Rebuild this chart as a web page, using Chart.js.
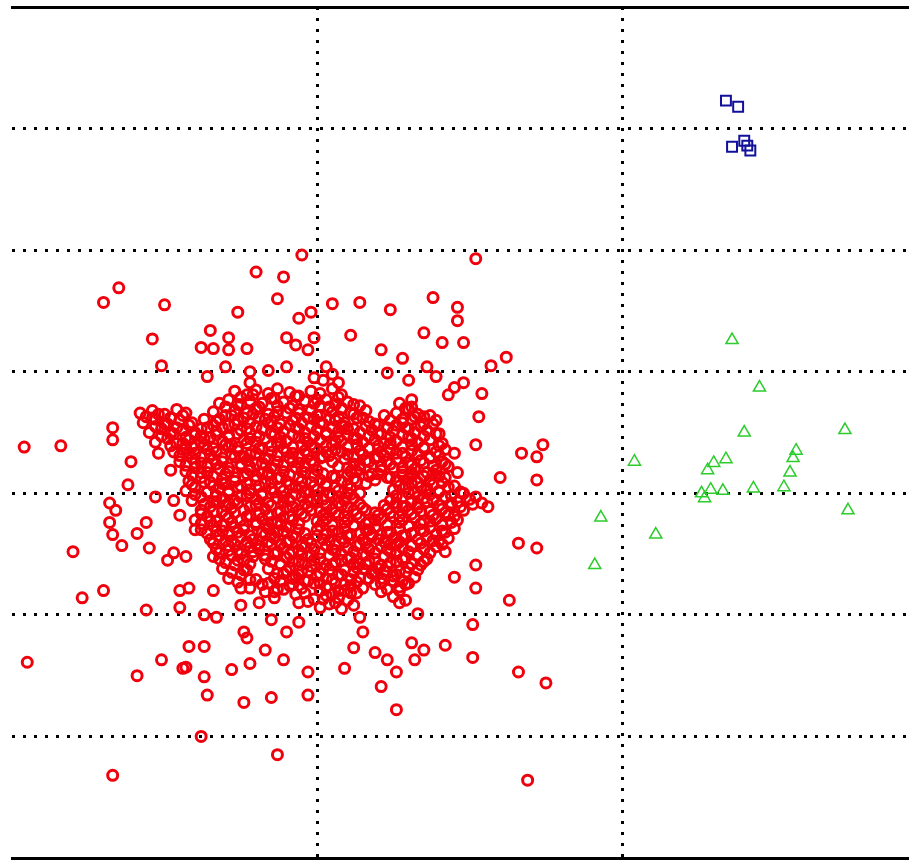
<!DOCTYPE html>
<html>
<head>
<meta charset="utf-8">
<script src="https://cdn.jsdelivr.net/npm/chart.js@4/dist/chart.umd.min.js"></script>
<style>
html,body{margin:0;padding:0;background:#fff;}
canvas{display:block;}
</style>
</head>
<body>
<canvas id="c" width="909" height="860"></canvas>
<script>
// Axis settings (grid units)
const xMin = 0, xMax = 2.94;
const yMin = 0, yMax = 7;
const xGridTicks = [1, 2];
const yGridTicks = [1, 2, 3, 4, 5, 6];

// Red circles: scattered points around the main cloud [x, y]
const redOuter = [
[0.95,4.96],[1.52,4.93],[0.80,4.82],[0.89,4.78],[0.35,4.69],[0.30,4.57],[0.87,4.60],[0.50,4.55],
[1.05,4.56],[1.14,4.57],[1.24,4.51],[1.38,4.61],[1.46,4.53],[1.46,4.42],[0.74,4.49],[0.94,4.44],
[0.98,4.49],[0.65,4.34],[0.46,4.27],[0.71,4.28],[0.71,4.18],[0.77,4.19],[0.62,4.20],[0.66,4.19],
[0.90,4.28],[0.93,4.22],[0.99,4.28],[0.97,4.18],[1.11,4.30],[1.35,4.32],[1.41,4.24],[1.48,4.24],
[1.21,4.18],[1.28,4.11],[1.62,4.12],[1.57,4.05],[0.49,4.05],[0.64,3.96],[0.70,4.04],[0.78,4.00],
[0.84,4.01],[0.90,4.04],[0.78,3.91],[1.23,3.99],[1.36,4.04],[1.39,3.96],[1.30,3.93],[1.48,3.91],
[1.45,3.87],[1.43,3.81],[1.54,3.82],[1.53,3.63],[1.31,3.77],[1.35,3.63],[1.52,3.40],[1.67,3.33],
[1.74,3.40],[1.72,3.30],[1.60,3.13],[1.72,3.11],[1.45,3.33],[1.46,3.17],[1.36,3.03],[1.28,2.89],
[1.56,2.89],[0.04,3.38],[0.16,3.39],[0.33,3.54],[0.33,3.44],[0.46,3.62],[0.52,3.62],[0.52,3.50],
[0.39,3.26],[0.48,3.33],[0.52,3.19],[0.38,3.07],[0.32,2.92],[0.34,2.86],[0.47,2.97],[0.53,2.94],
[0.56,3.36],[0.32,2.76],[0.33,2.66],[0.36,2.57],[0.41,2.67],[0.44,2.76],[0.45,2.55],[0.51,2.45],
[0.53,2.51],[0.20,2.52],[0.23,2.14],[0.30,2.20],[0.44,2.04],[0.05,1.61],[0.41,1.50],[0.49,1.63],
[0.56,1.56],[0.33,0.68],[0.55,2.20],[0.55,2.06],[0.55,2.82],[0.60,2.70],[0.57,2.48],[0.66,2.48],
[0.58,2.22],[0.66,2.20],[0.75,2.08],[0.63,2.00],[0.67,1.98],[0.75,2.22],[0.81,2.10],[0.86,2.19],
[0.85,1.96],[0.90,1.86],[0.94,2.10],[0.94,1.94],[0.76,1.86],[0.77,1.81],[0.58,1.74],[0.63,1.74],
[0.57,1.57],[0.72,1.55],[0.78,1.60],[0.83,1.71],[0.89,1.63],[0.97,1.53],[0.63,1.49],[0.64,1.34],
[0.76,1.28],[0.85,1.32],[0.97,1.34],[0.62,1.00],[0.87,0.85],[1.09,1.56],[1.12,1.73],[1.15,1.86],
[1.14,1.98],[1.66,2.59],[1.72,2.55],[1.52,2.41],[1.45,2.31],[1.52,2.22],[1.63,2.12],[1.42,2.52],
[1.33,2.01],[1.51,1.92],[1.42,1.75],[1.31,1.77],[1.35,1.71],[1.32,1.63],[1.51,1.65],[1.19,1.69],
[1.23,1.63],[1.26,1.53],[1.21,1.41],[1.26,1.22],[1.66,1.53],[1.75,1.44],[1.69,0.64],
[1.02,3.93],[1.05,3.98],[1.03,4.04],[1.07,3.91],[0.99,3.95]
];

// Red circles: dense core of the cloud, first layer [x, y]
const redCore = [
[0.73,3.84],[0.77,3.81],[0.80,3.85],[0.84,3.82],[0.87,3.86],[0.91,3.83],[0.94,3.80],[0.98,3.84],[1.01,3.82],[1.05,3.86],[1.08,3.81],
[0.68,3.74],[0.71,3.77],[0.75,3.73],[0.78,3.76],[0.82,3.74],[0.85,3.78],[0.89,3.75],[0.92,3.72],[0.96,3.76],[0.99,3.74],[1.03,3.77],[1.06,3.73],[1.10,3.75],[1.14,3.72],[1.27,3.74],[1.31,3.71],
[0.42,3.66],[0.46,3.68],[0.50,3.65],[0.54,3.69],[0.57,3.66],[0.66,3.67],[0.70,3.64],[0.73,3.68],[0.77,3.66],[0.80,3.69],[0.84,3.65],[0.87,3.67],[0.91,3.70],[0.94,3.66],[0.98,3.68],[1.01,3.64],[1.05,3.67],[1.08,3.69],[1.12,3.65],[1.16,3.68],[1.26,3.66],[1.30,3.69],[1.33,3.65],
[0.43,3.58],[0.47,3.61],[0.51,3.57],[0.55,3.60],[0.59,3.58],[0.63,3.61],[0.67,3.59],[0.71,3.56],[0.74,3.60],[0.78,3.58],[0.81,3.62],[0.85,3.59],[0.88,3.57],[0.92,3.60],[0.95,3.58],[0.99,3.61],[1.02,3.57],[1.06,3.60],[1.09,3.58],[1.13,3.62],[1.17,3.59],[1.20,3.56],[1.24,3.60],[1.28,3.58],[1.31,3.61],[1.35,3.57],[1.39,3.60],
[0.45,3.50],[0.49,3.53],[0.52,3.49],[0.56,3.52],[0.60,3.50],[0.64,3.54],[0.67,3.51],[0.71,3.48],[0.75,3.52],[0.78,3.50],[0.82,3.53],[0.85,3.49],[0.89,3.51],[0.93,3.54],[0.96,3.50],[1.00,3.52],[1.03,3.48],[1.07,3.51],[1.10,3.53],[1.14,3.50],[1.18,3.52],[1.21,3.49],[1.25,3.51],[1.29,3.54],[1.32,3.50],[1.36,3.52],[1.40,3.49],
[0.47,3.42],[0.51,3.45],[0.54,3.41],[0.58,3.44],[0.62,3.42],[0.65,3.46],[0.69,3.43],[0.72,3.40],[0.76,3.44],[0.80,3.42],[0.83,3.45],[0.87,3.41],[0.90,3.43],[0.94,3.46],[0.97,3.42],[1.01,3.44],[1.05,3.40],[1.08,3.43],[1.12,3.45],[1.15,3.42],[1.19,3.44],[1.22,3.41],[1.26,3.43],[1.30,3.46],[1.33,3.42],[1.37,3.44],[1.41,3.41],
[0.53,3.34],[0.57,3.37],[0.60,3.33],[0.64,3.36],[0.67,3.34],[0.71,3.38],[0.74,3.35],[0.78,3.32],[0.82,3.36],[0.85,3.34],[0.89,3.37],[0.92,3.33],[0.96,3.35],[0.99,3.38],[1.03,3.34],[1.06,3.36],[1.10,3.32],[1.14,3.35],[1.17,3.37],[1.21,3.34],[1.24,3.36],[1.28,3.33],[1.31,3.35],[1.35,3.38],[1.39,3.34],[1.42,3.36],
[0.55,3.26],[0.59,3.29],[0.62,3.25],[0.66,3.28],[0.69,3.26],[0.73,3.30],[0.77,3.27],[0.80,3.24],[0.84,3.28],[0.87,3.26],[0.91,3.29],[0.94,3.25],[0.98,3.27],[1.02,3.30],[1.05,3.26],[1.09,3.28],[1.12,3.24],[1.16,3.27],[1.19,3.29],[1.23,3.26],[1.26,3.28],[1.30,3.25],[1.34,3.27],[1.37,3.30],[1.41,3.26],
[0.57,3.18],[0.60,3.21],[0.64,3.17],[0.68,3.20],[0.71,3.18],[0.75,3.22],[0.78,3.19],[0.82,3.16],[0.86,3.20],[0.89,3.18],[0.93,3.21],[0.96,3.17],[1.00,3.19],[1.07,3.22],[1.11,3.18],[1.14,3.20],[1.18,3.16],[1.21,3.19],[1.25,3.21],[1.28,3.18],[1.32,3.20],[1.36,3.17],[1.39,3.19],[1.43,3.22],
[0.58,3.10],[0.62,3.13],[0.65,3.09],[0.69,3.12],[0.73,3.10],[0.76,3.14],[0.80,3.11],[0.83,3.08],[0.87,3.12],[0.90,3.10],[0.94,3.13],[0.98,3.09],[1.01,3.11],[1.05,3.14],[1.08,3.10],[1.12,3.12],[1.16,3.08],[1.19,3.11],[1.23,3.13],[1.26,3.10],[1.30,3.12],[1.33,3.09],[1.37,3.11],[1.40,3.14],
[0.57,3.02],[0.60,3.05],[0.64,3.01],[0.68,3.04],[0.71,3.02],[0.75,3.06],[0.78,3.03],[0.82,3.00],[0.85,3.04],[0.89,3.02],[0.93,3.05],[0.96,3.01],[1.00,3.03],[1.03,3.06],[1.07,3.02],[1.11,3.04],[1.14,3.00],[1.25,3.03],[1.29,3.05],[1.32,3.01],[1.36,3.04],[1.40,3.02],[1.43,3.05],[1.47,3.01],
[0.59,2.94],[0.62,2.97],[0.66,2.93],[0.69,2.96],[0.73,2.94],[0.77,2.98],[0.80,2.95],[0.84,2.92],[0.87,2.96],[0.91,2.94],[0.95,2.97],[0.98,2.93],[1.02,2.95],[1.05,2.98],[1.09,2.94],[1.12,2.96],[1.24,2.94],[1.28,2.97],[1.31,2.93],[1.35,2.96],[1.38,2.94],[1.42,2.97],[1.46,2.93],[1.50,2.95],[1.54,2.92],
[0.62,2.86],[0.65,2.89],[0.69,2.85],[0.72,2.88],[0.76,2.86],[0.80,2.90],[0.83,2.87],[0.87,2.84],[0.90,2.88],[0.94,2.86],[0.97,2.89],[1.01,2.85],[1.05,2.87],[1.08,2.90],[1.12,2.86],[1.15,2.88],[1.19,2.84],[1.23,2.87],[1.26,2.89],[1.30,2.86],[1.33,2.88],[1.37,2.85],[1.41,2.87],[1.44,2.90],[1.48,2.86],
[0.60,2.78],[0.64,2.81],[0.67,2.77],[0.71,2.80],[0.75,2.78],[0.78,2.82],[0.82,2.79],[0.85,2.76],[0.89,2.80],[0.92,2.78],[0.96,2.81],[1.00,2.77],[1.03,2.79],[1.07,2.82],[1.10,2.78],[1.14,2.80],[1.17,2.76],[1.21,2.79],[1.25,2.81],[1.28,2.78],[1.32,2.80],[1.35,2.77],[1.39,2.79],[1.43,2.82],[1.46,2.78],
[0.62,2.70],[0.66,2.73],[0.69,2.69],[0.73,2.72],[0.76,2.70],[0.80,2.74],[0.84,2.71],[0.87,2.68],[0.91,2.72],[0.94,2.70],[1.01,2.73],[1.05,2.69],[1.09,2.71],[1.12,2.74],[1.16,2.70],[1.19,2.72],[1.23,2.68],[1.27,2.71],[1.30,2.73],[1.34,2.70],[1.37,2.72],[1.41,2.69],[1.45,2.71],
[0.65,2.62],[0.68,2.65],[0.72,2.61],[0.75,2.64],[0.79,2.62],[0.83,2.66],[0.86,2.63],[0.90,2.60],[0.93,2.64],[0.97,2.62],[1.00,2.65],[1.04,2.61],[1.08,2.63],[1.11,2.66],[1.15,2.62],[1.18,2.64],[1.22,2.60],[1.25,2.63],[1.29,2.65],[1.33,2.62],[1.36,2.64],[1.40,2.61],[1.43,2.63],
[0.67,2.54],[0.71,2.57],[0.74,2.53],[0.78,2.56],[0.81,2.54],[0.85,2.58],[0.89,2.55],[0.92,2.52],[0.96,2.56],[0.99,2.54],[1.03,2.57],[1.06,2.53],[1.10,2.55],[1.14,2.58],[1.17,2.54],[1.21,2.56],[1.24,2.52],[1.28,2.55],[1.31,2.57],[1.35,2.54],[1.39,2.56],
[0.68,2.46],[0.72,2.49],[0.76,2.45],[0.79,2.48],[0.83,2.46],[0.86,2.50],[0.90,2.47],[0.94,2.44],[0.97,2.48],[1.01,2.46],[1.04,2.49],[1.08,2.45],[1.11,2.47],[1.15,2.50],[1.19,2.46],[1.22,2.48],[1.26,2.44],[1.29,2.47],[1.33,2.49],[1.36,2.46],
[0.69,2.38],[0.73,2.41],[0.77,2.37],[0.84,2.38],[0.88,2.42],[0.91,2.39],[0.95,2.36],[0.98,2.40],[1.02,2.38],[1.05,2.41],[1.09,2.37],[1.13,2.39],[1.16,2.42],[1.20,2.38],[1.23,2.40],[1.27,2.36],[1.30,2.39],[1.34,2.41],
[0.71,2.30],[0.75,2.33],[0.78,2.29],[0.86,2.30],[0.89,2.34],[0.93,2.31],[0.96,2.28],[1.00,2.32],[1.03,2.30],[1.07,2.33],[1.11,2.29],[1.14,2.31],[1.18,2.34],[1.21,2.30],[1.25,2.32],[1.28,2.28],[1.32,2.31],
[0.78,2.22],[0.82,2.25],[0.87,2.21],[0.91,2.24],[0.95,2.22],[0.99,2.26],[1.03,2.23],[1.07,2.20],[1.11,2.24],[1.15,2.22],[1.19,2.25],[1.23,2.21],[1.27,2.23],[1.30,2.26],
[0.86,2.14],[0.93,2.17],[0.99,2.13],[1.03,2.16],[1.07,2.14],[1.11,2.18],[1.25,2.15],[1.29,2.12],
[1.01,2.06],[1.04,2.09],[1.08,2.05],[1.12,2.08],
[0.75,3.30],[0.86,3.48],[0.98,3.40],[1.09,3.55],[0.69,3.08],[0.84,3.15],[0.95,3.05],[1.10,3.00],
[0.71,2.92],[0.88,2.74],[1.03,2.84],[1.18,2.66],[0.80,2.58],[0.95,2.50],[1.12,2.42],[1.26,2.58],
[0.93,3.62],[1.04,3.71],[0.81,3.71],[0.62,3.47],[1.20,3.30],[1.31,3.14],[0.92,2.30],[1.06,2.26]
];

// Red circles: dense core of the cloud, second layer [x, y]
const redCore2 = [
[0.75,3.79],[0.79,3.81],[0.86,3.78],[0.93,3.80],[1.00,3.77],[1.07,3.79],
[0.70,3.71],[0.74,3.73],[0.80,3.70],[0.87,3.72],[0.94,3.69],[1.01,3.72],[1.08,3.70],[1.12,3.73],[1.29,3.70],
[0.44,3.63],[0.48,3.65],[0.52,3.62],[0.56,3.64],[0.68,3.61],[0.72,3.64],[0.76,3.62],[0.79,3.65],[0.83,3.61],[0.86,3.63],[0.90,3.66],[0.97,3.62],[1.00,3.64],[1.04,3.61],[1.07,3.63],[1.11,3.66],[1.15,3.62],[1.22,3.64],[1.28,3.61],[1.32,3.63],[1.37,3.64],
[0.47,3.55],[0.50,3.57],[0.54,3.54],[0.58,3.56],[0.62,3.53],[0.66,3.56],[0.69,3.54],[0.73,3.57],[0.77,3.53],[0.80,3.55],[0.84,3.58],[0.87,3.54],[0.91,3.56],[0.94,3.53],[0.98,3.55],[1.01,3.58],[1.05,3.54],[1.08,3.56],[1.12,3.53],[1.16,3.55],[1.19,3.57],[1.23,3.54],[1.26,3.56],[1.30,3.53],[1.34,3.55],[1.38,3.57],
[0.49,3.47],[0.53,3.49],[0.57,3.46],[0.60,3.48],[0.63,3.45],[0.67,3.48],[0.71,3.46],[0.74,3.49],[0.78,3.45],[0.81,3.47],[0.85,3.50],[0.88,3.46],[0.92,3.48],[0.96,3.45],[0.99,3.47],[1.03,3.50],[1.07,3.46],[1.10,3.48],[1.13,3.45],[1.17,3.47],[1.20,3.49],[1.24,3.46],[1.28,3.48],[1.31,3.45],[1.35,3.47],[1.39,3.49],
[0.52,3.39],[0.56,3.41],[0.59,3.38],[0.63,3.40],[0.66,3.37],[0.70,3.40],[0.74,3.38],[0.77,3.41],[0.81,3.37],[0.85,3.39],[0.88,3.42],[0.92,3.38],[0.95,3.40],[0.99,3.37],[1.03,3.39],[1.06,3.42],[1.10,3.38],[1.13,3.40],[1.17,3.37],[1.20,3.39],[1.24,3.41],[1.28,3.38],[1.31,3.40],[1.35,3.37],[1.40,3.39],
[0.55,3.31],[0.58,3.33],[0.62,3.30],[0.65,3.32],[0.69,3.29],[0.72,3.32],[0.76,3.30],[0.80,3.33],[0.83,3.29],[0.87,3.31],[0.90,3.34],[0.94,3.30],[0.97,3.32],[1.01,3.29],[1.04,3.31],[1.08,3.34],[1.12,3.30],[1.15,3.32],[1.19,3.29],[1.22,3.31],[1.26,3.33],[1.29,3.30],[1.33,3.32],[1.37,3.29],[1.40,3.31],
[0.57,3.23],[0.60,3.25],[0.64,3.22],[0.67,3.24],[0.71,3.21],[0.75,3.24],[0.78,3.22],[0.82,3.25],[0.85,3.21],[0.89,3.23],[0.92,3.26],[0.96,3.22],[0.99,3.24],[1.10,3.21],[1.14,3.23],[1.17,3.26],[1.21,3.22],[1.24,3.24],[1.28,3.21],[1.31,3.23],[1.35,3.25],[1.38,3.22],[1.42,3.24],
[0.59,3.15],[0.62,3.17],[0.66,3.14],[0.70,3.16],[0.73,3.13],[0.77,3.16],[0.80,3.14],[0.84,3.17],[0.88,3.13],[0.91,3.15],[0.95,3.18],[0.99,3.14],[1.02,3.16],[1.06,3.13],[1.10,3.15],[1.13,3.18],[1.17,3.14],[1.20,3.16],[1.24,3.13],[1.28,3.15],[1.31,3.17],[1.35,3.14],[1.38,3.16],[1.42,3.13],
[0.59,3.07],[0.63,3.09],[0.66,3.06],[0.70,3.08],[0.74,3.05],[0.77,3.08],[0.81,3.06],[0.85,3.09],[0.88,3.05],[0.91,3.07],[0.95,3.10],[0.99,3.06],[1.03,3.08],[1.06,3.05],[1.10,3.07],[1.13,3.10],[1.27,3.06],[1.31,3.08],[1.34,3.05],[1.38,3.07],[1.41,3.09],[1.45,3.06],
[0.60,2.99],[0.64,3.01],[0.67,2.98],[0.71,3.00],[0.75,2.97],[0.78,3.00],[0.82,2.98],[0.86,3.01],[0.89,2.97],[0.93,2.99],[0.97,3.02],[1.00,2.98],[1.04,3.00],[1.07,2.97],[1.11,2.99],[1.26,2.98],[1.30,3.00],[1.33,2.97],[1.37,2.99],[1.40,3.01],[1.44,2.98],[1.48,3.00],[1.52,2.97],
[0.63,2.91],[0.67,2.93],[0.70,2.90],[0.74,2.92],[0.78,2.89],[0.81,2.92],[0.85,2.90],[0.89,2.93],[0.92,2.89],[0.96,2.91],[1.00,2.94],[1.03,2.90],[1.07,2.92],[1.10,2.89],[1.14,2.91],[1.22,2.90],[1.26,2.92],[1.29,2.89],[1.33,2.91],[1.36,2.93],[1.40,2.90],[1.44,2.92],[1.47,2.89],[1.51,2.91],
[0.62,2.83],[0.66,2.85],[0.70,2.82],[0.73,2.84],[0.77,2.81],[0.81,2.84],[0.84,2.82],[0.88,2.85],[0.91,2.81],[0.95,2.83],[0.98,2.86],[1.02,2.82],[1.06,2.84],[1.09,2.81],[1.13,2.83],[1.16,2.86],[1.20,2.82],[1.24,2.84],[1.27,2.81],[1.31,2.83],[1.34,2.85],[1.38,2.82],[1.42,2.84],[1.45,2.81],
[0.62,2.75],[0.65,2.77],[0.69,2.74],[0.72,2.76],[0.76,2.73],[0.80,2.76],[0.83,2.74],[0.87,2.77],[0.90,2.73],[0.94,2.75],[1.02,2.77],[1.05,2.74],[1.09,2.76],[1.12,2.73],[1.16,2.75],[1.19,2.78],[1.23,2.74],[1.27,2.76],[1.30,2.73],[1.34,2.75],[1.37,2.77],[1.41,2.74],[1.44,2.76],
[0.64,2.67],[0.67,2.69],[0.71,2.66],[0.74,2.68],[0.78,2.65],[0.82,2.68],[0.85,2.66],[0.89,2.69],[0.92,2.65],[0.96,2.67],[1.00,2.70],[1.03,2.66],[1.07,2.68],[1.10,2.65],[1.14,2.67],[1.17,2.70],[1.21,2.66],[1.24,2.68],[1.28,2.65],[1.31,2.67],[1.35,2.69],[1.39,2.66],[1.42,2.68],
[0.66,2.59],[0.70,2.61],[0.73,2.58],[0.77,2.60],[0.81,2.57],[0.84,2.60],[0.88,2.58],[0.91,2.61],[0.95,2.57],[0.98,2.59],[1.02,2.62],[1.06,2.58],[1.09,2.60],[1.13,2.57],[1.16,2.59],[1.20,2.62],[1.24,2.58],[1.27,2.60],[1.31,2.57],[1.34,2.59],[1.38,2.61],[1.41,2.58],
[0.68,2.51],[0.71,2.53],[0.75,2.50],[0.79,2.52],[0.83,2.49],[0.87,2.52],[0.91,2.50],[0.94,2.53],[0.98,2.49],[1.01,2.51],[1.05,2.54],[1.08,2.50],[1.12,2.52],[1.16,2.49],[1.19,2.51],[1.23,2.54],[1.26,2.50],[1.30,2.52],[1.33,2.49],[1.37,2.51],
[0.70,2.43],[0.74,2.45],[0.78,2.42],[0.85,2.44],[0.88,2.41],[0.92,2.44],[0.96,2.42],[0.99,2.45],[1.03,2.41],[1.06,2.43],[1.10,2.46],[1.14,2.42],[1.17,2.44],[1.21,2.41],[1.24,2.43],[1.28,2.46],[1.31,2.42],[1.35,2.44],
[0.72,2.35],[0.76,2.37],[0.87,2.34],[0.90,2.36],[0.94,2.33],[0.97,2.36],[1.01,2.34],[1.04,2.37],[1.08,2.33],[1.12,2.35],[1.15,2.38],[1.19,2.34],[1.22,2.36],[1.26,2.33],[1.29,2.35],[1.33,2.37],
[0.74,2.27],[0.80,2.29],[0.84,2.26],[0.88,2.28],[0.92,2.25],[0.97,2.28],[1.01,2.26],[1.05,2.29],[1.09,2.25],[1.13,2.27],[1.17,2.30],[1.21,2.26],[1.25,2.28],[1.29,2.25],
[0.83,2.19],[0.89,2.21],[0.96,2.18],[1.01,2.20],[1.05,2.17],[1.09,2.20],[1.13,2.18],[1.21,2.19],[1.27,2.20],
[0.97,2.11],[1.02,2.13],[1.06,2.10],[1.10,2.12],[1.27,2.10]
];

// Green triangles [x, y]
const greenPoints = [
[2.36,4.26],[2.45,3.87],[2.40,3.50],[2.73,3.52],[2.04,3.26],[2.30,3.25],[2.34,3.28],[2.57,3.35],
[2.56,3.29],[2.55,3.17],[2.53,3.05],[2.26,3.00],[2.29,3.03],[2.33,3.02],[2.43,3.04],[2.74,2.86],
[1.93,2.80],[2.11,2.66],[1.91,2.41],[2.28,3.19],[2.27,2.96]
];

// Blue squares [x, y]
const bluePoints = [
[2.34,6.23],[2.38,6.18],[2.36,5.85],[2.40,5.90],[2.42,5.82],[2.41,5.86]
];

const toXY = arr => arr.map(([x, y]) => ({x, y}));

new Chart(document.getElementById('c'), {
  type: 'scatter',
  data: {
    datasets: [
      {
        label: 'red',
        data: toXY(redOuter.concat(redCore, redCore2)),
        pointStyle: 'circle',
        pointRadius: 5,
        pointBorderWidth: 3,
        borderColor: '#f0000c',
        pointBorderColor: '#f0000c',
        backgroundColor: 'rgba(0,0,0,0)',
        pointBackgroundColor: 'rgba(0,0,0,0)'
      },
      {
        label: 'green',
        data: toXY(greenPoints),
        pointStyle: 'triangle',
        pointRadius: 7,
        pointBorderWidth: 1.5,
        borderColor: '#2ccc2c',
        pointBorderColor: '#2ccc2c',
        backgroundColor: 'rgba(0,0,0,0)',
        pointBackgroundColor: 'rgba(0,0,0,0)'
      },
      {
        label: 'blue',
        data: toXY(bluePoints),
        pointStyle: 'rect',
        pointRadius: 7,
        pointBorderWidth: 2,
        borderColor: '#10109a',
        pointBorderColor: '#10109a',
        backgroundColor: 'rgba(0,0,0,0)',
        pointBackgroundColor: 'rgba(0,0,0,0)'
      }
    ]
  },
  options: {
    responsive: false,
    animation: false,
    devicePixelRatio: 1,
    layout: { autoPadding: false, padding: { left: 12, top: 7, right: 0, bottom: 2 } },
    plugins: { legend: { display: false }, tooltip: { enabled: false } },
    scales: {
      x: {
        type: 'linear', position: 'bottom', min: xMin, max: xMax,
        afterBuildTicks: s => { s.ticks = xGridTicks.map(v => ({ value: v })); },
        ticks: { display: false },
        grid: { color: '#000', lineWidth: 3, drawTicks: false },
        border: { display: true, color: '#000', width: 3, dash: [3, 8] }
      },
      xTop: {
        type: 'linear', position: 'top', min: xMin, max: xMax,
        ticks: { display: false },
        grid: { display: false, drawTicks: false },
        border: { display: true, color: '#000', width: 3 }
      },
      y: {
        type: 'linear', position: 'left', min: yMin, max: yMax,
        afterBuildTicks: s => { s.ticks = yGridTicks.map(v => ({ value: v })); },
        ticks: { display: false },
        grid: { color: '#000', lineWidth: 3, drawTicks: false },
        border: { display: false, dash: [3, 8] }
      }
    }
  }
});
</script>
</body>
</html>
